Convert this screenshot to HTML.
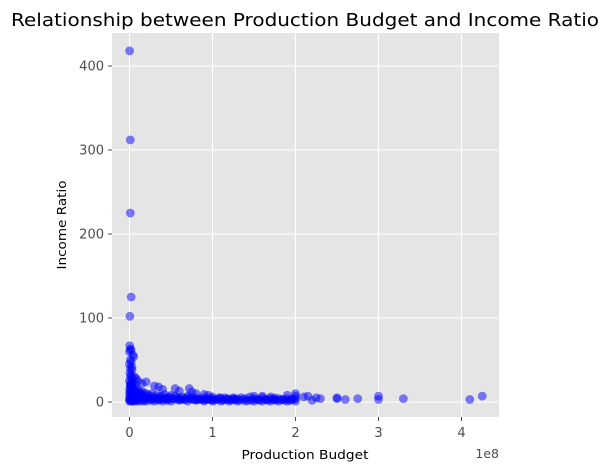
<!DOCTYPE html>
<html><head><meta charset="utf-8"><style>
body{margin:0;background:#fff;font-family:"DejaVu Sans","Liberation Sans",sans-serif;}
</style></head><body>
<svg id="chart" width="610" height="471" xmlns="http://www.w3.org/2000/svg">
<text x="305" y="26" text-anchor="middle" font-size="18" textLength="588" lengthAdjust="spacingAndGlyphs" fill="#000">Relationship between Production Budget and Income Ratio</text>
<rect x="112" y="33" width="387" height="384" fill="#e5e5e5"/>
<g id="grid"></g><g id="ticks"></g><g id="pts"></g>
<text x="305" y="459" text-anchor="middle" font-size="12.5" textLength="127" lengthAdjust="spacingAndGlyphs" fill="#000">Production Budget</text>
<text x="66" y="225" text-anchor="middle" font-size="12.5" textLength="89" lengthAdjust="spacingAndGlyphs" fill="#000" transform="rotate(-90 66 225)">Income Ratio</text>
<text x="499" y="458" text-anchor="end" font-size="12.5" fill="#4d4d4d">1e8</text>
</svg>
<script>
const xTicks=[0,1,2,3,4];
const yTicks=[0,100,200,300,400];
// budget in millions and income ratio, paired by index (groups of 10)
const budgets=[
0.1,1,1,2,0.5,0.3,1,2,4,5,
3,1,0.5,2,6,8,10,15,20,30,
35,40,55,60,72,75,80,90,95,100,
110,115,125,130,150,160,170,175,190,200,
200,210,215,225,230,250,250,260,275,300,
300,330,410,425,0,0,0,1,1,1,
2,2,2,3,3,4,4,5,5,6,
7,8,9,10,11,12,13,14,15,16,
18,20,22,25,27,30,32,35,38,40,
42,45,48,50,52,55,58,60,63,65,
68,70,73,75,78,80,83,85,88,90,
93,95,98,100,105,108,112,118,120,125,
128,135,140,145,150,155,160,165,170,175,
180,185,190,195,200,0,1,2,3,4,
5,6,8,10,12,15,18,20,25,30,
35,40,45,50,60,70,80,90,100,110,
120,130,140,150,160,170,180,190,200,220,
3,7,11,17,23,28,33,37,43,47,
53,57,62,67,72,77,82,87,92,97,
102,107,113,117,123,127,133,137,143,147,
153,157,163,167,173,177,183,187,193,197,
2,5,9,13,19,24,29,34,41,46,
1,2,3,4,6,8,0,1,2,5,
0,1,3,0,2,1,0,4,6,3];
const ratios=[
418,312,225,125,102,67,63,62,56,54,
42,40,35,32,30,28,25,22,24,19,
18,15,16,13,16,12,10,9,8,6,
5,5,5,4,7,7,6,5,8,10,
7,6,7,5,4,4,5,3,4,7,
3,4,3,7,5,15,25,8,20,30,
12,22,18,10,28,14,24,9,17,12,
20,8,15,11,13,7,10,9,12,8,
11,6,9,7,10,5,8,6,7,4,
9,5,6,8,4,7,5,4,6,3,
5,7,4,6,3,5,3,4,3,5,
3,4,3,4,3,5,3,4,3,4,
3,5,4,6,4,3,5,3,4,3,
4,3,4,3,4,1,2,1,2,1,
2,1,2,1,2,1,2,1,2,1,
2,1,2,1,2,1,2,1,1,1,
1,1,1,1,1,1,1,1,1,2,
3,4,5,3,4,3,4,3,4,3,
4,3,3,3,4,3,3,3,3,3,
2,3,2,3,2,3,2,3,2,2,
3,2,3,2,3,2,3,2,2,3,
6,6,5,5,5,5,4,4,4,4,
12,16,20,14,8,10,3,18,10,6,
45,50,38,60,48,22,10,6,4,7];
const ns="http://www.w3.org/2000/svg";
const X=b=>129.5+b*0.83, Y=r=>402-r*0.84;
const g=document.getElementById('grid'),t=document.getElementById('ticks'),p=document.getElementById('pts');
xTicks.forEach(v=>{const x=X(v*100);
 const l=document.createElementNS(ns,'line');l.setAttribute('x1',x);l.setAttribute('x2',x);l.setAttribute('y1',33);l.setAttribute('y2',417);l.setAttribute('stroke','#fff');
 
 g.appendChild(l);
 const k=document.createElementNS(ns,'line');k.setAttribute('x1',x);k.setAttribute('x2',x);k.setAttribute('y1',417);k.setAttribute('y2',421);k.setAttribute('stroke','#4d4d4d');
 
 t.appendChild(k);
 const s=document.createElementNS(ns,'text');s.setAttribute('x',x);s.setAttribute('y',437);s.setAttribute('text-anchor','middle');s.setAttribute('font-size','13');s.setAttribute('fill','#4d4d4d');s.textContent=v;
 
 t.appendChild(s);});
yTicks.forEach(v=>{const y=Y(v);
 const l=document.createElementNS(ns,'line');l.setAttribute('x1',112);l.setAttribute('x2',499);l.setAttribute('y1',y);l.setAttribute('y2',y);l.setAttribute('stroke','#fff');
 
 g.appendChild(l);
 const k=document.createElementNS(ns,'line');k.setAttribute('x1',108);k.setAttribute('x2',112);k.setAttribute('y1',y);k.setAttribute('y2',y);k.setAttribute('stroke','#4d4d4d');
 
 t.appendChild(k);
 const s=document.createElementNS(ns,'text');s.setAttribute('x',104);s.setAttribute('y',y+4.5);s.setAttribute('text-anchor','end');s.setAttribute('font-size','13');s.setAttribute('fill','#4d4d4d');s.textContent=v;
 
 t.appendChild(s);});
budgets.forEach((b,i)=>{const c=document.createElementNS(ns,'circle');
 c.setAttribute('cx',X(b));c.setAttribute('cy',Y(ratios[i]));c.setAttribute('r',4.4);c.setAttribute('fill','#0000ff');c.setAttribute('fill-opacity','0.5');
 
 p.appendChild(c);});
</script>
</body></html>
